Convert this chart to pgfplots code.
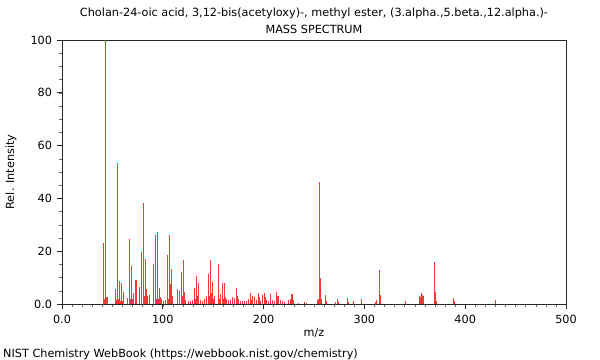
\documentclass[border=0pt]{standalone}
\usepackage{pgfplots}
\pgfplotsset{compat=1.18}
\usepackage{fontspec}
\setmainfont{DejaVu Sans}
\definecolor{peak}{RGB}{245,55,55}
\definecolor{frame}{RGB}{40,40,40}
\begin{document}
\fontsize{11.3}{13.5}\selectfont
\begin{tikzpicture}
\path[use as bounding box] (-62bp,-56bp) rectangle (538bp,304bp);
\begin{axis}[
  at={(0,0)}, anchor=south west,
  scale only axis, width=504bp, height=264bp,
  xmin=0, xmax=500, ymin=0, ymax=100,
  axis line style={frame, line width=0.8bp},
  xtick={0,100,200,300,400,500},
  xticklabels={0.0,100,200,300,400,500},
  ytick={0,20,40,60,80,100},
  yticklabels={0.0,20,40,60,80,100},
  minor xtick={10,20,...,490},
  minor ytick={5,10,...,95},
  tick align=outside,
  major tick length=5bp, minor tick length=2.5bp,
  tick style={frame, line width=0.7bp},
  minor tick style={frame!70, line width=0.5bp},
  xtick pos=bottom, ytick pos=left,
  /pgf/number format/assume math mode=true,
  ticklabel style={font=\fontsize{11.3}{13.5}\selectfont},
  xticklabel style={yshift=-2bp},
  yticklabel style={xshift=-1bp},
  clip=true,
]
\addplot[ycomb, peak, line width=1bp, mark=none] table[row sep=\\] {
x y\\
41 23.2\\ 42 2.0\\ 43 100\\ 44 2.8\\ 45 2.5\\
53 5.7\\ 54 1.5\\ 55 53.5\\ 56 2.0\\ 57 8.7\\ 58 1.0\\ 59 8.0\\ 60 1.0\\ 61 4.7\\
65 2.3\\ 67 24.7\\ 68 2.0\\ 69 14.5\\ 70 2.0\\ 71 4.3\\ 73 9.0\\ 74 9.2\\ 77 6.4\\
79 19.8\\ 81 38.4\\ 82 3.0\\ 83 17.0\\ 84 5.5\\ 85 3.0\\ 87 3.4\\
91 15.2\\ 93 26.0\\ 94 2.0\\ 95 27.2\\ 96 2.0\\ 97 6.2\\ 98 2.8\\ 99 2.0\\
101 1.0\\ 103 1.5\\ 105 18.4\\ 106 2.0\\ 107 26.0\\ 108 7.5\\ 109 13.3\\ 110 3.0\\
115 5.7\\ 117 4.8\\ 119 12.0\\ 120 3.0\\ 121 16.5\\ 122 4.5\\ 123 1.5\\ 125 1.0\\
127 1.0\\ 129 1.5\\ 131 6.0\\ 132 2.0\\ 133 10.6\\ 134 3.0\\ 135 7.8\\ 137 1.5\\
139 1.0\\ 141 2.0\\ 143 3.0\\ 145 11.4\\ 146 3.0\\ 147 16.7\\ 148 4.0\\ 149 8.4\\
150 2.0\\ 151 3.0\\ 155 15.2\\ 156 2.0\\ 157 3.7\\ 159 7.8\\ 160 2.0\\ 161 7.8\\
162 2.5\\ 163 2.0\\ 165 1.5\\ 167 1.5\\ 169 2.5\\ 171 2.2\\ 173 5.9\\ 174 3.0\\
175 2.0\\ 177 1.2\\ 179 1.2\\ 181 1.2\\ 183 1.0\\ 185 2.0\\ 187 4.3\\ 188 1.5\\
189 3.0\\ 191 2.5\\ 193 1.5\\ 195 4.3\\ 196 2.5\\ 197 1.0\\ 199 3.4\\ 201 4.3\\
202 2.5\\ 203 1.5\\ 205 1.0\\ 207 3.8\\ 209 1.5\\ 211 1.0\\ 213 4.4\\ 214 3.0\\
215 3.0\\ 217 1.5\\ 219 1.0\\ 221 0.8\\ 225 1.5\\ 227 2.0\\ 228 3.7\\ 229 3.7\\
230 1.5\\ 235 0.5\\ 241 0.8\\ 243 0.5\\ 253 1.5\\ 254 2.0\\ 255 46.2\\ 256 10.0\\
257 2.0\\ 261 3.3\\ 262 1.0\\ 271 0.7\\ 273 1.8\\ 274 0.8\\ 283 2.1\\ 284 0.8\\
289 1.0\\ 297 1.8\\ 311 0.8\\ 312 1.5\\ 315 12.9\\ 316 3.4\\ 341 1.0\\
355 3.0\\ 356 2.5\\ 357 4.2\\ 358 3.5\\ 359 3.0\\ 370 15.9\\ 371 4.5\\ 372 1.0\\
388 2.4\\ 389 1.0\\ 430 1.5\\
};
\end{axis}
\node[anchor=base] at (252bp,287bp) {Cholan-24-oic acid, 3,12-bis(acetyloxy)-, methyl ester, (3.alpha.,5.beta.,12.alpha.)-};
\node[anchor=base] at (252bp,270bp) {MASS SPECTRUM};
\node[rotate=90, anchor=center] at (-51bp,132bp) {Rel. Intensity};
\node[anchor=center] at (252bp,-29bp) {m/z};
\node[anchor=base west, inner sep=0pt] at (-59bp,-53bp) {NIST Chemistry WebBook (https://webbook.nist.gov/chemistry)};
\end{tikzpicture}
\end{document}
